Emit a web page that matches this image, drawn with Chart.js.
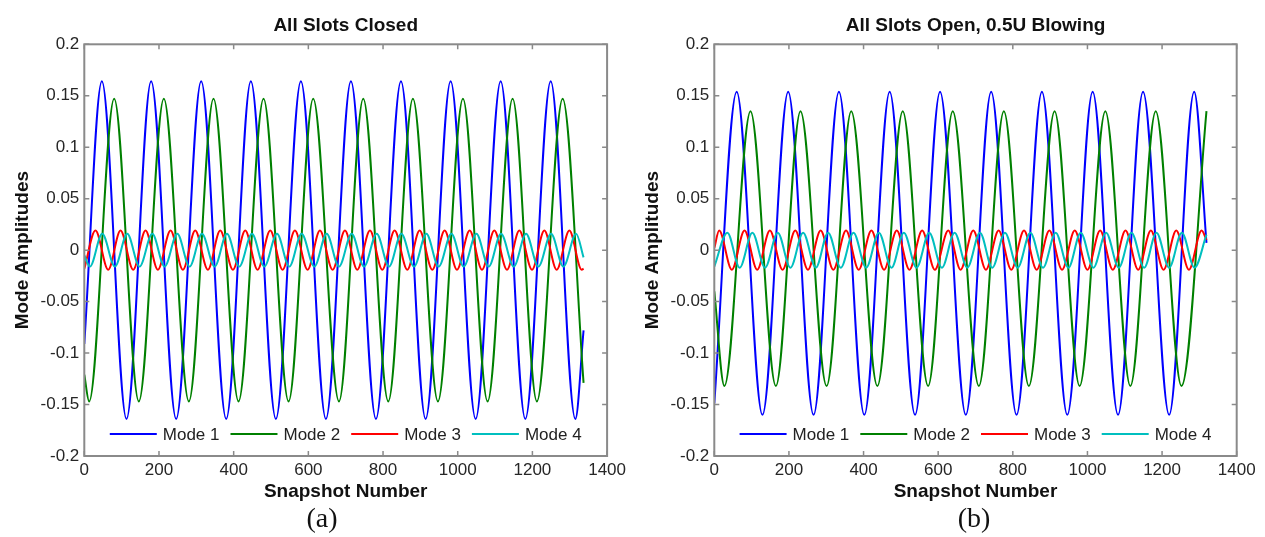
<!DOCTYPE html>
<html>
<head>
<meta charset="utf-8">
<title>Mode Amplitudes</title>
<script src="https://cdn.jsdelivr.net/npm/chart.js@4.4.0/dist/chart.umd.min.js"></script>
<style>
  body { margin: 0; background: #fff; width: 1265px; height: 537px; overflow: hidden; position: relative; }
  canvas { position: absolute; top: 0; }
  #chartA { left: 0; }
  #chartB { left: 630px; }
  .sub { position: absolute; top: 502px; font-family: 'Liberation Serif', serif; font-size: 28px; line-height: 32px; color: #111; transform: translateX(-50%); }
</style>
</head>
<body>
<canvas id="chartA" width="630" height="510"></canvas>
<canvas id="chartB" width="635" height="510"></canvas>
<div class="sub" style="left:322px">(a)</div>
<div class="sub" style="left:974px">(b)</div>
<script>
// axis ticks (same for both panels)
const xTicks = [0, 200, 400, 600, 800, 1000, 1200, 1400];
const yTicks = [-0.2, -0.15, -0.1, -0.05, 0, 0.05, 0.1, 0.15, 0.2];
const modeLabels = ['Mode 1', 'Mode 2', 'Mode 3', 'Mode 4'];
const modeColors = ['#0000ff', '#008000', '#ff0000', '#00bfbf'];

// (a) All Slots Closed - start, peaks/troughs, end
const closedX1 = [0, 47, 113, 179, 246, 313, 380, 446, 513, 580, 647, 714, 781, 848, 914, 981, 1048, 1115, 1181, 1249, 1315, 1337];
const closedY1 = [-0.091, 0.164, -0.164, 0.164, -0.164, 0.164, -0.164, 0.164, -0.164, 0.164, -0.164,
  0.164, -0.164, 0.164, -0.164, 0.164, -0.164, 0.164, -0.164, 0.164, -0.164, -0.078];
const closedX2 = [0, 13, 80, 146, 213, 280, 346, 413, 480, 547, 613, 682, 747, 814, 880, 947, 1014, 1080, 1147, 1212, 1281, 1337];
const closedY2 = [-0.121, -0.147, 0.147, -0.147, 0.147, -0.147, 0.147, -0.147, 0.147, -0.147, 0.147,
  -0.147, 0.147, -0.147, 0.147, -0.147, 0.147, -0.147, 0.147, -0.147, 0.147, -0.129];
const closedX3 = [0, 30, 64, 97, 131, 164, 197, 231, 264, 297, 331, 364, 398, 431, 464, 498, 531, 564, 598, 631, 665,
  698, 731, 765, 798, 831, 865, 898, 932, 965, 998, 1032, 1065, 1098, 1132, 1165, 1199, 1232, 1265, 1299, 1332, 1337];
const closedY3 = [-0.018,
  0.019, -0.019, 0.019, -0.019, 0.019, -0.019, 0.019, -0.019, 0.019, -0.019,
  0.019, -0.019, 0.019, -0.019, 0.019, -0.019, 0.019, -0.019, 0.019, -0.019,
  0.019, -0.019, 0.019, -0.019, 0.019, -0.019, 0.019, -0.019, 0.019, -0.019,
  0.019, -0.019, 0.019, -0.019, 0.019, -0.019, 0.019, -0.019, 0.019, -0.019,
  -0.018];
const closedX4 = [0, 15, 48, 82, 115, 148, 182, 215, 249, 282, 315, 349, 382, 415, 449, 482, 516, 549, 582, 616, 649,
  682, 716, 749, 783, 816, 849, 883, 916, 949, 983, 1016, 1050, 1083, 1116, 1150, 1183, 1216, 1250, 1283, 1317, 1337];
const closedY4 = [-0.005,
  -0.016, 0.016, -0.016, 0.016, -0.016, 0.016, -0.016, 0.016, -0.016, 0.016,
  -0.016, 0.016, -0.016, 0.016, -0.016, 0.016, -0.016, 0.016, -0.016, 0.016,
  -0.016, 0.016, -0.016, 0.016, -0.016, 0.016, -0.016, 0.016, -0.016, 0.016,
  -0.016, 0.016, -0.016, 0.016, -0.016, 0.016, -0.016, 0.016, -0.016, 0.016,
  -0.007];

// (b) All Slots Open, 0.5U Blowing
const openX1 = [0, 60, 129, 198, 266, 334, 402, 470, 538, 605, 674, 742, 810, 878, 946, 1014, 1082, 1149, 1219, 1286, 1319];
const openY1 = [-0.149, 0.154, -0.160, 0.154, -0.160, 0.154, -0.160, 0.154, -0.160, 0.154, -0.160,
  0.154, -0.160, 0.154, -0.160, 0.154, -0.160, 0.154, -0.160, 0.154, 0.007];
const openX2 = [0, 27, 97, 165, 231, 301, 367, 437, 505, 573, 639, 709, 776, 843, 912, 979, 1048, 1115, 1183, 1252, 1319];
const openY2 = [-0.040, -0.132, 0.135, -0.132, 0.135, -0.132, 0.135, -0.132, 0.135, -0.132, 0.135,
  -0.132, 0.135, -0.132, 0.135, -0.132, 0.135, -0.132, 0.135, -0.132, 0.135];
const openX3 = [0, 13, 47, 81, 115, 149, 183, 217, 251, 285, 319, 353, 387, 421, 455, 489, 523, 557, 591, 627, 660,
  694, 728, 762, 796, 830, 864, 898, 932, 966, 1000, 1034, 1068, 1102, 1136, 1170, 1204, 1238, 1272, 1306, 1319];
const openY3 = [0.002,
  0.019, -0.019, 0.019, -0.019, 0.019, -0.019, 0.019, -0.019, 0.019, -0.019,
  0.019, -0.019, 0.019, -0.019, 0.019, -0.019, 0.019, -0.019, 0.019, -0.019,
  0.019, -0.019, 0.019, -0.019, 0.019, -0.019, 0.019, -0.019, 0.019, -0.019,
  0.019, -0.019, 0.019, -0.019, 0.019, -0.019, 0.019, -0.019, 0.019,
  0.010];
const openX4 = [0, 35, 68, 102, 136, 170, 204, 238, 272, 305, 339, 373, 407, 441, 475, 508, 542, 576, 610, 644,
  678, 712, 745, 779, 813, 847, 881, 915, 949, 982, 1016, 1050, 1084, 1118, 1152, 1185, 1219, 1253, 1287, 1319];
const openY4 = [-0.016,
  0.017, -0.017, 0.017, -0.017, 0.017, -0.017, 0.017, -0.017, 0.017, -0.017,
  0.017, -0.017, 0.017, -0.017, 0.017, -0.017, 0.017, -0.017, 0.017, -0.017,
  0.017, -0.017, 0.017, -0.017, 0.017, -0.017, 0.017, -0.017, 0.017, -0.017,
  0.017, -0.017, 0.017, -0.017, 0.017, -0.017, 0.017, -0.017,
  0.015];

Chart.defaults.font.family = "'Liberation Sans', Arial, sans-serif";
Chart.defaults.color = '#222';

const pairs = (xs, ys) => xs.map((x, i) => ({ x: x, y: ys[i] }));

// box + inward ticks on all four sides, like a matlab axes
const matlabFrame = {
  id: 'matlabFrame',
  afterDatasetsDraw(chart) {
    const { ctx, chartArea: a, scales } = chart;
    ctx.save();
    ctx.strokeStyle = '#8a8a8a';
    ctx.lineWidth = 1.5;
    ctx.beginPath();
    xTicks.forEach(v => {
      const px = scales.x.getPixelForValue(v);
      ctx.moveTo(px, a.bottom); ctx.lineTo(px, a.bottom - 5);
      ctx.moveTo(px, a.top); ctx.lineTo(px, a.top + 5);
    });
    yTicks.forEach(v => {
      const py = scales.y.getPixelForValue(v);
      ctx.moveTo(a.left, py); ctx.lineTo(a.left + 5, py);
      ctx.moveTo(a.right, py); ctx.lineTo(a.right - 5, py);
    });
    ctx.stroke();
    ctx.lineWidth = 2;
    ctx.strokeRect(a.left, a.top, a.right - a.left, a.bottom - a.top);
    ctx.restore();
  }
};

// horizontal legend along the bottom of the plot area
const bottomLegend = {
  id: 'bottomLegend',
  afterDraw(chart) {
    const { ctx, chartArea: a } = chart;
    const lineLen = 47, gap = 6, itemGap = 11;
    ctx.save();
    ctx.font = "17px 'Liberation Sans', Arial, sans-serif";
    ctx.textBaseline = 'middle';
    const widths = modeLabels.map(t => ctx.measureText(t).width);
    let total = 0;
    widths.forEach((w, i) => { total += lineLen + gap + w + (i < widths.length - 1 ? itemGap : 0); });
    let x = (a.left + a.right) / 2 - total / 2;
    const y = a.bottom - 22;
    modeLabels.forEach((label, i) => {
      ctx.strokeStyle = modeColors[i];
      ctx.lineWidth = 1.8;
      ctx.beginPath();
      ctx.moveTo(x, y); ctx.lineTo(x + lineLen, y);
      ctx.stroke();
      ctx.fillStyle = '#222';
      ctx.fillText(label, x + lineLen + gap, y + 1);
      x += lineLen + gap + widths[i] + itemGap;
    });
    ctx.restore();
  }
};

function makeChart(id, title, series, padRight) {
  const ctx = document.getElementById(id).getContext('2d');
  return new Chart(ctx, {
    type: 'line',
    data: {
      datasets: series.map((s, i) => ({
        label: modeLabels[i],
        data: s,
        borderColor: modeColors[i],
        borderWidth: 2,
        pointRadius: 0,
        tension: 0.4,
        cubicInterpolationMode: 'monotone',
        order: 4 - i
      }))
    },
    options: {
      responsive: false,
      animation: false,
      layout: { padding: { left: 0, right: padRight, top: 0, bottom: 0 } },
      plugins: {
        legend: { display: false },
        tooltip: { enabled: false },
        title: {
          display: true,
          text: title,
          fullSize: false,
          color: '#111',
          font: { size: 19, weight: 'bold' },
          padding: { top: 14, bottom: 7.5 }
        }
      },
      scales: {
        x: {
          type: 'linear',
          min: xTicks[0],
          max: xTicks[xTicks.length - 1],
          afterBuildTicks: scale => { scale.ticks = xTicks.map(v => ({ value: v })); },
          afterFit: scale => { scale.height = 54; },
          grid: { display: false, drawTicks: false },
          border: { display: false },
          ticks: { padding: 4, font: { size: 17 }, color: '#262626', maxRotation: 0, callback: v => String(v) },
          title: { display: true, text: 'Snapshot Number', color: '#111', font: { size: 19, weight: 'bold' }, padding: { top: 0, bottom: 7 } }
        },
        y: {
          type: 'linear',
          min: yTicks[0],
          max: yTicks[yTicks.length - 1],
          afterBuildTicks: scale => { scale.ticks = yTicks.map(v => ({ value: v })); },
          afterFit: scale => { scale.width = 84.3; },
          grid: { display: false, drawTicks: false },
          border: { display: false },
          ticks: { padding: 5, font: { size: 17 }, color: '#262626', callback: v => String(+v.toFixed(2)) },
          title: { display: true, text: 'Mode Amplitudes', color: '#111', font: { size: 19, weight: 'bold' }, padding: { top: 11, bottom: 0 } }
        }
      }
    },
    plugins: [matlabFrame, bottomLegend]
  });
}

makeChart('chartA', 'All Slots Closed', [
  pairs(closedX1, closedY1), pairs(closedX2, closedY2), pairs(closedX3, closedY3), pairs(closedX4, closedY4)
], 22.7);

makeChart('chartB', 'All Slots Open, 0.5U Blowing', [
  pairs(openX1, openY1), pairs(openX2, openY2), pairs(openX3, openY3), pairs(openX4, openY4)
], 28.3);
</script>
</body>
</html>
